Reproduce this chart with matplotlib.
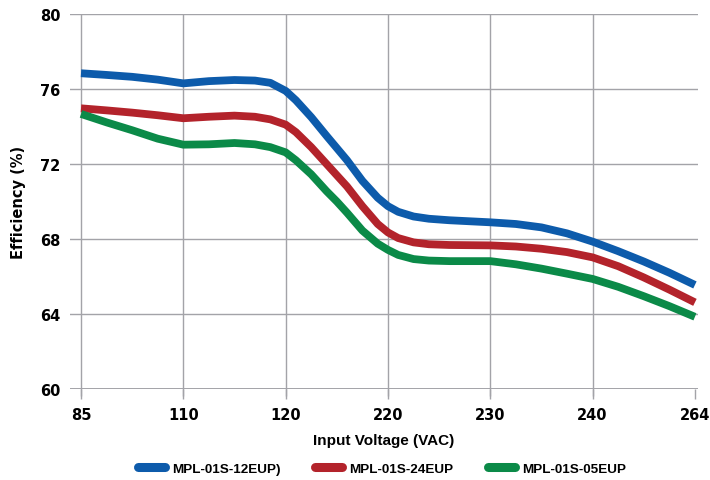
import numpy as np
import matplotlib.pyplot as plt

# Valores (posicion en el eje categorico, eficiencia %)
voltajes = ['85', '110', '120', '220', '230', '240', '264']
pos = [0, 0.25, 0.5, 0.75, 1, 1.25, 1.5, 1.7, 1.85, 2, 2.1, 2.25, 2.4, 2.5, 2.6,
       2.75, 2.9, 3, 3.1, 3.25, 3.4, 3.6, 4, 4.25, 4.5, 4.75, 5, 5.25, 5.5, 5.75, 6]

ef_12 = [76.84, 76.75, 76.65, 76.50, 76.30, 76.42, 76.48, 76.45, 76.33, 75.90, 75.40,
         74.50, 73.50, 72.85, 72.20, 71.10, 70.20, 69.75, 69.45, 69.20, 69.08, 69.00,
         68.89, 68.80, 68.62, 68.30, 67.86, 67.35, 66.80, 66.20, 65.55]
ef_24 = [74.97, 74.86, 74.74, 74.60, 74.44, 74.52, 74.58, 74.52, 74.38, 74.10, 73.70,
         72.90, 72.00, 71.40, 70.80, 69.75, 68.80, 68.35, 68.05, 67.82, 67.72, 67.68,
         67.66, 67.60, 67.48, 67.30, 67.02, 66.55, 65.95, 65.30, 64.62]
ef_05 = [74.67, 74.22, 73.80, 73.35, 73.03, 73.05, 73.12, 73.05, 72.90, 72.62, 72.20,
         71.45, 70.55, 70.00, 69.40, 68.45, 67.75, 67.42, 67.15, 66.93, 66.85, 66.82,
         66.82, 66.65, 66.42, 66.15, 65.87, 65.45, 64.95, 64.42, 63.85]

nombres = ['MPL-01S-12EUP)', 'MPL-01S-24EUP', 'MPL-01S-05EUP']
colores = ['#0d5bab', '#b3232b', '#0b8a48']
yticks = [60, 64, 68, 72, 76, 80]

plt.rcParams['font.family'] = ['Liberation Sans', 'DejaVu Sans']
plt.rcParams['font.weight'] = 'bold'

fig = plt.figure(figsize=(7.1, 4.81), dpi=100)
ax = fig.add_axes([0.0986, 0.1892, 0.8845, 0.7796])
ax.set_frame_on(False)

gris = '#a3a3a8'
# lineas de la reticula
for v in yticks:
    ax.axhline(v, color=gris, lw=1.4 if v == 60 else 1.0, zorder=1)
ax.vlines([0, 1, 2, 3, 4, 5], 59.62, 80, color=gris, lw=1.0, zorder=1, clip_on=False)

for serie, nombre, c in zip([ef_12, ef_24, ef_05], nombres, colores):
    ax.plot(pos, serie, color=c, lw=5.6, solid_joinstyle='round',
            solid_capstyle='butt', label=nombre, zorder=3)

ax.set_xlim(-0.1075, 6.03)
ax.set_ylim(60, 80)
ax.set_xticks(range(7))
ax.set_xticklabels(voltajes)
ax.set_yticks(yticks)
ax.tick_params(axis='x', length=7, color=gris, width=1.0, pad=6)
ax.tick_params(axis='y', length=0, pad=7)
for t in ax.get_xticklabels() + ax.get_yticklabels():
    t.set_fontfamily('DejaVu Sans')
    t.set_fontsize(10.5)
    t.set_fontweight('bold')

ax.set_xlabel('Input Voltage (VAC)', fontsize=11, fontweight='bold', labelpad=8)
ax.set_ylabel('Efficiency (%)', fontsize=10.5, fontweight='bold', labelpad=10,
              family='DejaVu Sans')

leg = fig.legend(loc='center', bbox_to_anchor=(0.538, 0.023), ncol=3, frameon=False,
                 fontsize=9.7, handlelength=2.0, handletextpad=0.5, columnspacing=2.6)
for l in leg.get_lines():
    l.set_linewidth(6.5)
    l.set_solid_capstyle('round')

fig.savefig('out.png', dpi=100)
